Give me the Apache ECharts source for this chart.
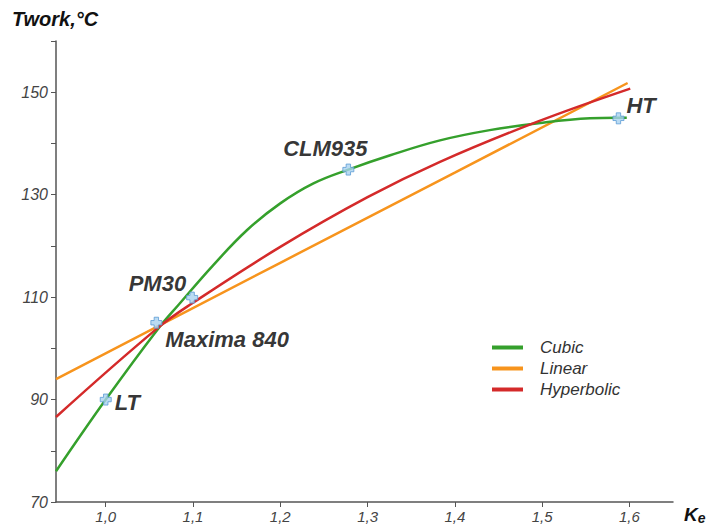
<!DOCTYPE html>
<html>
<head>
<meta charset="utf-8">
<script src="https://cdn.jsdelivr.net/npm/echarts@6/dist/echarts.min.js"></script>
<style>html,body{margin:0;padding:0;background:#fff}#c{width:709px;height:526px}</style>
</head>
<body>
<div id="c"></div>
<script>
// ---- data ----
var xTicks = [1.0, 1.1, 1.2, 1.3, 1.4, 1.5, 1.6];
var yTickLabels = [70, 90, 110, 130, 150];

var cubicX = [0.943, 1.0, 1.059, 1.085, 1.123, 1.162, 1.2, 1.238, 1.278, 1.326, 1.383, 1.44, 1.498, 1.555, 1.586, 1.597];
var cubicY = [76.0, 90, 103.6, 108.8, 116.2, 123.1, 128.3, 132.2, 134.9, 137.7, 140.6, 142.6, 144.0, 144.9, 145.0, 145.0];

var linearX = [0.943, 1.2, 1.4, 1.598];
var linearY = [94.0, 116.7, 134.3, 151.8];

var hyperX = [0.943, 1.059, 1.1, 1.2, 1.3, 1.383, 1.494, 1.601];
var hyperY = [86.6, 103.9, 108.9, 119.8, 129.5, 136.4, 144.2, 150.7];

var ptNames = ['LT', 'Maxima 840', 'PM30', 'CLM935', 'HT'];
var ptX = [1.0, 1.058, 1.099, 1.278, 1.5875];
var ptY = [90, 105, 109.9, 134.9, 144.9];

function zip(a, b) { return a.map(function (v, i) { return [v, b[i]]; }); }

var labelFont = { fontFamily: 'Liberation Sans', fontStyle: 'italic', fontWeight: 'bold', fontSize: 22, color: '#000' };
var ptLabelCfg = [
  { position: 'right', distance: 3, offset: [0, 3] },
  { position: 'right', distance: 3, offset: [0, 17] },
  { position: 'left', distance: 2, offset: [2, -14] },
  { position: 'top', distance: 4, offset: [-23, 0] },
  { position: 'right', distance: 2, offset: [0, -13] }
];
var ptData = ptNames.map(function (n, i) {
  return { name: n, value: [ptX[i], ptY[i]], label: Object.assign({ show: true, formatter: n }, labelFont, ptLabelCfg[i]) };
});

var crossPath = 'path://M3,0 L7,0 L7,3 L10,3 L10,7 L7,7 L7,10 L3,10 L3,7 L0,7 L0,3 L3,3 Z';

var chart = echarts.init(document.getElementById('c'), null, { renderer: 'svg' });
var tickFont = { fontFamily: 'Liberation Sans', fontStyle: 'italic', fontSize: 16, color: '#444' };

chart.setOption({
  animation: false,
  backgroundColor: '#fff',
  grid: { left: 56, right: 36, top: 41, bottom: 24, containLabel: false },
  xAxis: {
    type: 'value', min: 0.943, max: 1.65,
    axisLine: { show: true, lineStyle: { color: '#555', width: 1.5 } },
    axisTick: { show: true, length: 5, lineStyle: { color: '#555', width: 1 }, customValues: xTicks },
    axisLabel: Object.assign({ margin: 7, customValues: xTicks, formatter: function (v) { return v.toFixed(1).replace('.', ','); } }, tickFont, { fontSize: 15 }),
    splitLine: { show: false }
  },
  yAxis: {
    type: 'value', min: 70, max: 160, interval: 10,
    axisLine: { show: true, lineStyle: { color: '#555', width: 1.5 } },
    axisTick: { show: true, length: 5, lineStyle: { color: '#555', width: 1 } },
    axisLabel: Object.assign({ margin: 8, formatter: function (v) { return yTickLabels.indexOf(v) >= 0 ? String(v) : ''; } }, tickFont),
    splitLine: { show: false }
  },
  legend: {
    orient: 'vertical', left: 487, top: 334, itemWidth: 31, itemHeight: 4, itemGap: 4,
    icon: 'rect',
    data: ['Cubic', 'Linear', 'Hyperbolic'],
    textStyle: { fontFamily: 'Liberation Sans', fontStyle: 'italic', fontSize: 17, color: '#333', padding: [0, 0, 0, 12] }
  },
  graphic: [
    { type: 'text', left: 12, top: 9, style: { text: 'Twork,°C', font: 'italic bold 20px "Liberation Sans"', fill: '#111' } },
    { type: 'text', left: 684, top: 505, style: { text: '{k|K}{e|e}', rich: { k: { font: 'italic bold 19px "Liberation Sans"', fill: '#111' }, e: { font: 'italic bold 14px "Liberation Sans"', fill: '#111', padding: [6, 0, 0, 0] } } } }
  ],
  series: [
    { name: 'Linear', type: 'line', data: zip(linearX, linearY), showSymbol: false, symbol: 'none', lineStyle: { color: '#f7941d', width: 2.5 }, itemStyle: { color: '#f7941d' } },
    { name: 'Cubic', type: 'line', data: zip(cubicX, cubicY), smooth: 0.4, showSymbol: false, symbol: 'none', lineStyle: { color: '#35a02c', width: 2.5 }, itemStyle: { color: '#35a02c' } },
    { name: 'Hyperbolic', type: 'line', data: zip(hyperX, hyperY), smooth: 0.4, showSymbol: false, symbol: 'none', lineStyle: { color: '#d42a2a', width: 2.5 }, itemStyle: { color: '#d42a2a' } },
    { name: 'points', type: 'scatter', data: ptData, symbol: crossPath, symbolSize: 11, z: 5,
      itemStyle: { color: '#a9d2f0', borderColor: '#5b9bd5', borderWidth: 1 } }
  ]
});
</script>
</body>
</html>
